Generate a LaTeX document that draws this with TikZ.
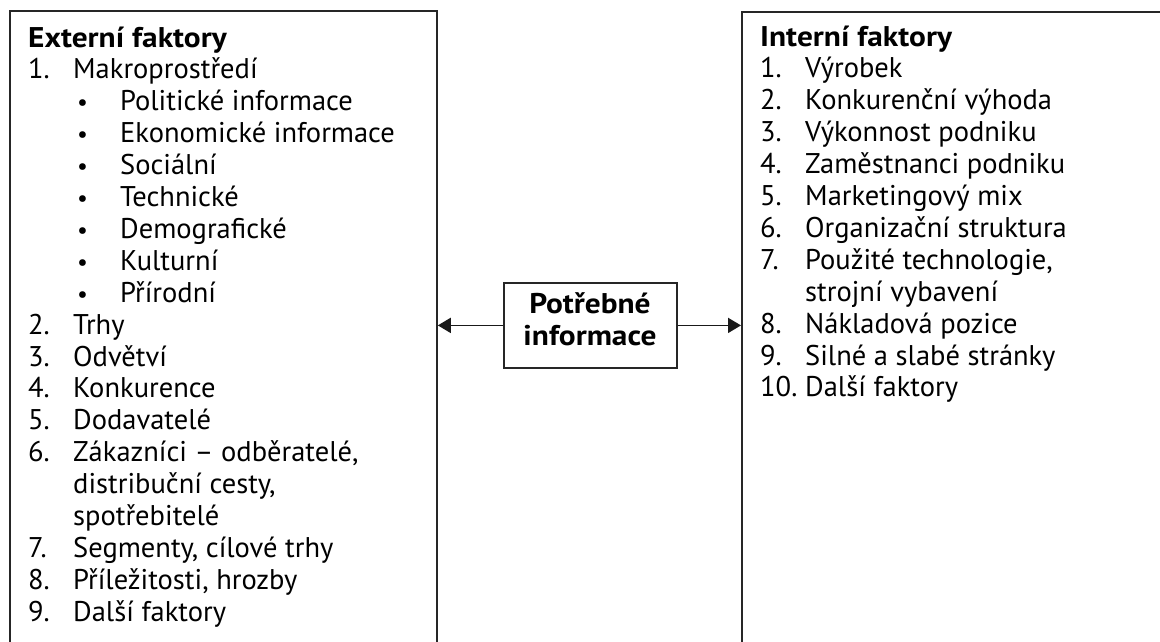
\documentclass[tikz,border=0pt]{standalone}
\usepackage{fontspec}
\setmainfont{PT Sans}
\newfontfamily\hdrfont{PT Sans}[FakeStretch=1.1]
\usetikzlibrary{arrows.meta}
\begin{document}
\begin{tikzpicture}[x=1pt,y=-1pt,
  txt/.style={anchor=base west,inner sep=0pt,font=\fontsize{28.5}{32}\selectfont},
  hdr/.style={anchor=base west,inner sep=0pt,font=\hdrfont\fontsize{28.5}{32}\selectfont\bfseries},
  midtxt/.style={anchor=base,inner sep=0pt,font=\hdrfont\fontsize{28.5}{32}\selectfont\bfseries},
  dot/.style={anchor=base west,inner sep=0pt,font=\fontsize{24}{32}\selectfont},
  boxline/.style={draw=black!85,line width=1.8pt},
  conn/.style={draw=black!90,line width=1.8pt,-{Triangle[length=13pt,width=15pt]}}]
\useasboundingbox (0,0) rectangle (1160,641);
\clip (0,0) rectangle (1160,641);
% boxes
\node[boxline,anchor=north west,minimum width=427pt,minimum height=700pt,inner sep=0pt] (ext) at (9,10) {};
\node[boxline,anchor=north west,minimum width=480pt,minimum height=700pt,inner sep=0pt] (int) at (741,11) {};
\node[boxline,anchor=north west,minimum width=173pt,minimum height=85pt,inner sep=0pt] (mid) at (503,282) {};
\node[midtxt] (mid1) at (590,313) {Potřebné};
\node[midtxt] (mid2) at (590,345) {informace};
% connectors
\coordinate (lt) at (ext.east |- mid.west);
\coordinate (rt) at (int.west |- mid.east);
\draw[conn] (mid.west) -- (lt);
\draw[conn] (mid.east) -- (rt);
% left texts
\node[hdr] (e0) at (28,47) {Externí faktory};
\node[txt] (n1) at (28,78.9) {1.};
\node[txt] (e1) at (73,78.9) {Makroprostředí};
\node[dot] (b2) at (77,110.8) {•};
\node[txt] (e2) at (120,110.8) {Politické informace};
\node[dot] (b3) at (77,142.7) {•};
\node[txt] (e3) at (120,142.7) {Ekonomické informace};
\node[dot] (b4) at (77,174.6) {•};
\node[txt] (e4) at (120,174.6) {Sociální};
\node[dot] (b5) at (77,206.5) {•};
\node[txt] (e5) at (120,206.5) {Technické};
\node[dot] (b6) at (77,238.4) {•};
\node[txt] (e6) at (120,238.4) {Demografické};
\node[dot] (b7) at (77,270.3) {•};
\node[txt] (e7) at (120,270.3) {Kulturní};
\node[dot] (b8) at (77,302.2) {•};
\node[txt] (e8) at (120,302.2) {Přírodní};
\node[txt] (n9) at (28,334.1) {2.};
\node[txt] (e9) at (73,334.1) {Trhy};
\node[txt] (n10) at (28,366.0) {3.};
\node[txt] (e10) at (73,366.0) {Odvětví};
\node[txt] (n11) at (28,397.9) {4.};
\node[txt] (e11) at (73,397.9) {Konkurence};
\node[txt] (n12) at (28,429.8) {5.};
\node[txt] (e12) at (73,429.8) {Dodavatelé};
\node[txt] (n13) at (28,461.7) {6.};
\node[txt] (e13) at (73,461.7) {Zákazníci – odběratelé,};
\node[txt] (e14) at (73,493.6) {distribuční cesty,};
\node[txt] (e15) at (73,525.5) {spotřebitelé};
\node[txt] (n16) at (28,557.4) {7.};
\node[txt] (e16) at (73,557.4) {Segmenty, cílové trhy};
\node[txt] (n17) at (28,589.3) {8.};
\node[txt] (e17) at (73,589.3) {Příležitosti, hrozby};
\node[txt] (n18) at (28,621.2) {9.};
\node[txt] (e18) at (73,621.2) {Další faktory};
% right texts
\node[hdr] (i0) at (760,46) {Interní faktory};
\node[txt] (m1) at (760,77.9) {1.};
\node[txt] (i1) at (805,77.9) {Výrobek};
\node[txt] (m2) at (760,109.8) {2.};
\node[txt] (i2) at (805,109.8) {Konkurenční výhoda};
\node[txt] (m3) at (760,141.7) {3.};
\node[txt] (i3) at (805,141.7) {Výkonnost podniku};
\node[txt] (m4) at (760,173.6) {4.};
\node[txt] (i4) at (805,173.6) {Zaměstnanci podniku};
\node[txt] (m5) at (760,205.5) {5.};
\node[txt] (i5) at (805,205.5) {Marketingový mix};
\node[txt] (m6) at (760,237.4) {6.};
\node[txt] (i6) at (805,237.4) {Organizační struktura};
\node[txt] (m7) at (760,269.3) {7.};
\node[txt] (i7) at (805,269.3) {Použité technologie,};
\node[txt] (i8) at (805,301.2) {strojní vybavení};
\node[txt] (m9) at (760,333.1) {8.};
\node[txt] (i9) at (805,333.1) {Nákladová pozice};
\node[txt] (m10) at (760,365.0) {9.};
\node[txt] (i10) at (805,365.0) {Silné a slabé stránky};
\node[txt] (m11) at (760,396.9) {10.};
\node[txt] (i11) at (805,396.9) {Další faktory};
\end{tikzpicture}
\end{document}
